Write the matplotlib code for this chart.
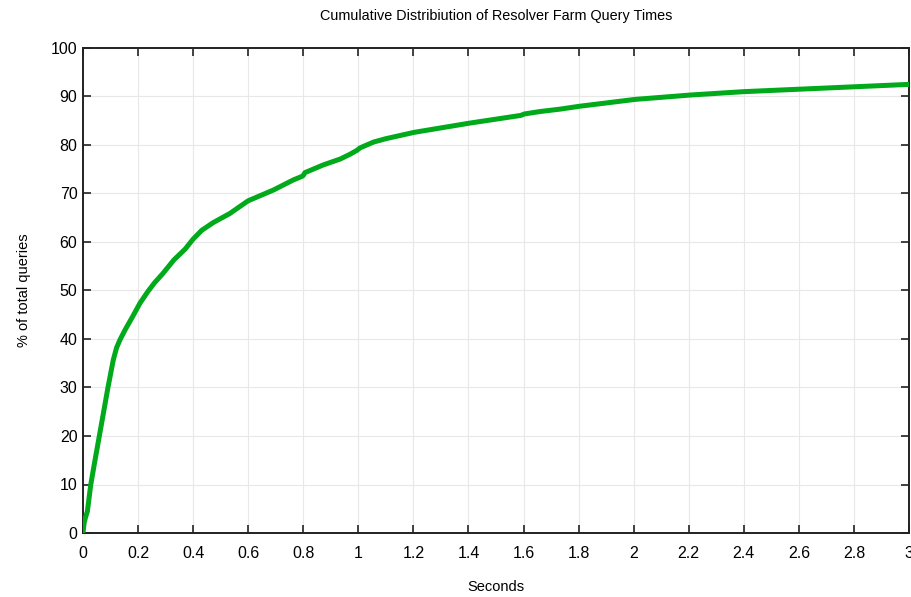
import matplotlib
matplotlib.use("Agg")
import matplotlib.pyplot as plt
import numpy as np

# cumulative share of queries answered within a given time
seconds = [0.0, 0.004, 0.008, 0.016, 0.028, 0.042, 0.059, 0.075, 0.09, 0.11,
           0.122, 0.134, 0.153, 0.18, 0.207, 0.237, 0.26, 0.29, 0.33, 0.352,
           0.372, 0.383, 0.4, 0.431, 0.473, 0.534, 0.582, 0.6, 0.691, 0.764,
           0.794, 0.8, 0.806, 0.873, 0.934, 0.97, 0.995, 1.006, 1.055, 1.1,
           1.202, 1.403, 1.59, 1.603, 1.66, 1.733, 1.805, 2.005, 2.205, 2.4,
           2.6, 2.8, 3.0]
pct_queries = [0.0, 2.0, 3.0, 4.5, 9.9, 14.5, 19.9, 25.0, 29.8, 35.7,
               38.2, 39.8, 41.9, 44.6, 47.4, 49.9, 51.6, 53.5, 56.3, 57.5,
               58.6, 59.4, 60.6, 62.4, 64.0, 65.9, 67.8, 68.5, 70.7, 72.8,
               73.5, 73.7, 74.3, 75.9, 77.1, 78.1, 78.9, 79.4, 80.6, 81.3,
               82.6, 84.5, 86.1, 86.4, 86.9, 87.4, 88.0, 89.4, 90.3, 91.0,
               91.5, 92.0, 92.5]

x_ticks = [0, 0.2, 0.4, 0.6, 0.8, 1, 1.2, 1.4, 1.6, 1.8, 2, 2.2, 2.4, 2.6, 2.8, 3]
x_tick_labels = ["0", "0.2", "0.4", "0.6", "0.8", "1", "1.2", "1.4", "1.6",
                 "1.8", "2", "2.2", "2.4", "2.6", "2.8", "3"]
y_ticks = list(range(0, 101, 10))

plt.rcParams['font.family'] = ['Liberation Sans', 'DejaVu Sans']

fig = plt.figure(figsize=(9.12, 5.97), dpi=100)
ax = fig.add_axes([83 / 912, 64 / 597, 826 / 912, 485 / 597])

ax.plot(seconds, pct_queries, color='#00aa1a', linewidth=3.6,
        solid_capstyle='round', solid_joinstyle='round', zorder=3)

ax.set_xlim(0, 3)
ax.set_ylim(0, 100)
ax.set_xticks(x_ticks)
ax.set_xticklabels(x_tick_labels)
ax.set_yticks(y_ticks)

ax.grid(True, color='#e8e8e8', linewidth=0.8)
ax.set_axisbelow(True)
ax.tick_params(direction='in', length=6, width=1.2, top=True, right=True,
               labelsize=11.5, colors='#222222', labelcolor='black')
ax.tick_params(axis='x', pad=9)
ax.tick_params(axis='y', pad=4)
for side in ax.spines.values():
    side.set_linewidth(1.4)
    side.set_color('#222222')

ax.set_title('Cumulative Distribiution of Resolver Farm Query Times',
             fontsize=10.4, pad=20)
ax.set_xlabel('Seconds', fontsize=10.5, labelpad=14)
ax.set_ylabel('% of total queries', fontsize=10.5, labelpad=14)

fig.savefig('out.png', dpi=100)
